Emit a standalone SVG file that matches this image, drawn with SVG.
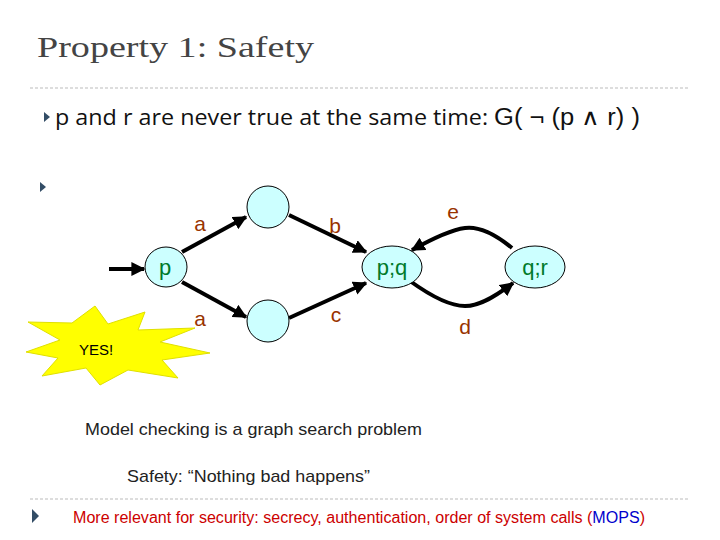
<svg xmlns="http://www.w3.org/2000/svg" width="720" height="540" viewBox="0 0 720 540">
<style>
.st{fill:#ccffff;stroke:#000;stroke-width:1}
.nl{font-family:"Liberation Sans",Arial,sans-serif;font-size:22px;fill:#007a2a;text-anchor:middle}
.el{font-family:"Liberation Sans",Arial,sans-serif;font-size:21px;fill:#993300;text-anchor:middle}
.ed{fill:none;stroke:#000;stroke-width:4}
.sm{font-family:"Liberation Sans",Arial,sans-serif;font-size:17px;fill:#222}
.dl{stroke:#bbb;stroke-width:1;stroke-dasharray:3,2}
.bu{fill:#334d66}
</style>
<defs>
<marker id="ah" viewBox="0 0 10 10" refX="9" refY="5" markerWidth="3.5" markerHeight="3.5" orient="auto"><path d="M0,0L10,5L0,10z" fill="#000"/></marker>
</defs>
<rect width="720" height="540" fill="#fff"/>
<text x="37" y="57" font-family="Liberation Serif,serif" font-size="30" fill="#444" textLength="277" lengthAdjust="spacingAndGlyphs">Property 1: Safety</text>
<line class="dl" x1="30" y1="88" x2="690" y2="88"/>
<path class="bu" d="M44,112L50,117L44,122z"/>
<text x="55" y="125" font-family="Open Sans,DejaVu Sans,sans-serif" font-size="21" fill="#111" textLength="585" lengthAdjust="spacingAndGlyphs">p and r are never true at the same time: <tspan font-family="Liberation Sans,sans-serif" font-size="23">G( ¬ (p  ∧ r) )</tspan></text>
<path class="bu" d="M40,182L46,187L40,192z"/>
<g id="connectors">
<line class="ed" x1="109" y1="269" x2="144" y2="269" marker-end="url(#ah)"/>
<line class="ed" x1="182" y1="252" x2="246" y2="217" marker-end="url(#ah)"/>
<line class="ed" x1="182" y1="282" x2="246" y2="317" marker-end="url(#ah)"/>
<line class="ed" x1="289" y1="215" x2="366" y2="252" marker-end="url(#ah)"/>
<line class="ed" x1="289" y1="318" x2="366" y2="283" marker-end="url(#ah)"/>
<path class="ed" d="M512,248 C495,234 480,226 465,228 C450,230 430,240 412,250" marker-end="url(#ah)"/>
<path class="ed" d="M410,281 C428,294 448,306 465,306 C480,306 496,296 513,283" marker-end="url(#ah)"/>
<text class="el" x="200" y="231">a</text>
<text class="el" x="335" y="233">b</text>
<text class="el" x="453" y="219">e</text>
<text class="el" x="200" y="326">a</text>
<text class="el" x="336" y="322">c</text>
<text class="el" x="465" y="334">d</text>
</g>
<g id="n_p"><ellipse class="st" cx="166" cy="267" rx="21" ry="20"/><text class="nl" x="165" y="275">p</text></g>
<g id="n_top"><ellipse class="st" cx="268" cy="207" rx="21" ry="21"/></g>
<g id="n_bot"><ellipse class="st" cx="268" cy="321" rx="21" ry="21"/></g>
<g id="n_pq"><ellipse class="st" cx="392" cy="267" rx="30" ry="21"/><text class="nl" x="392" y="275">p;q</text></g>
<g id="n_qr"><ellipse class="st" cx="535" cy="267" rx="30" ry="21"/><text class="nl" x="535" y="275">q;r</text></g>
<g id="yes">
<path d="M28,322L72,323L95,306L108,324L145,312L138,330L195,328L160,342L210,353L162,360L178,378L128,370L100,385L86,368L42,376L58,358L26,352L60,340z" fill="#ffff00" stroke="#e0e000" stroke-width="1"/>
<text x="96" y="355" font-family="Liberation Sans,sans-serif" font-size="15" text-anchor="middle">YES!</text>
</g>
<text class="sm" x="85" y="435" textLength="337" lengthAdjust="spacingAndGlyphs">Model checking is a graph search problem</text>
<text class="sm" x="127" y="482" textLength="243" lengthAdjust="spacingAndGlyphs">Safety: “Nothing bad happens”</text>
<line class="dl" x1="30" y1="499" x2="690" y2="499"/>
<path class="bu" d="M32,509L39,516L32,523z"/>
<text x="73" y="523" font-family="Liberation Sans,sans-serif" font-size="16" fill="#cc0000" textLength="572" lengthAdjust="spacingAndGlyphs">More relevant for security: secrecy, authentication, order of system calls (<tspan fill="#0000cc">MOPS</tspan>)</text>
</svg>
